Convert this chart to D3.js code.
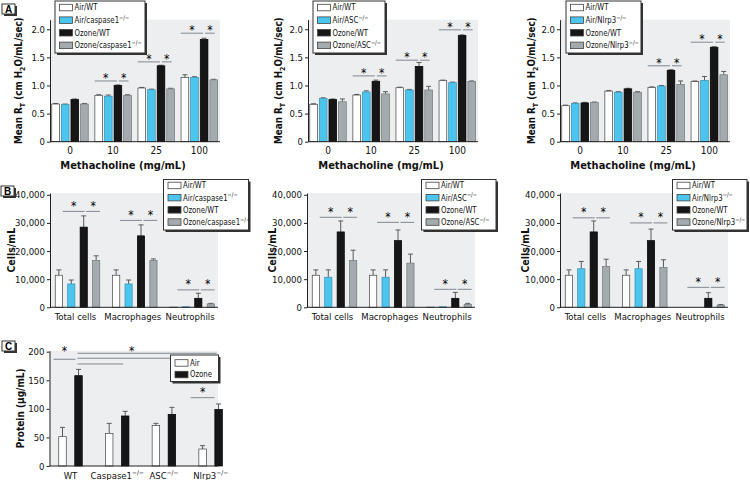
<!DOCTYPE html>
<html><head><meta charset="utf-8">
<script src="https://cdn.jsdelivr.net/npm/d3@7"></script>
<style>
body{margin:0;background:#fff;}
svg{display:block;font-family:'Liberation Sans Narrow','DejaVu Sans Condensed','Arial Narrow',sans-serif;}
</style></head><body>
<svg id="chart" width="750" height="480"></svg>
<script>
// ---------------- data ----------------
const doses = ["0", "10", "25", "100"];
const cellTypes = ["Total cells", "Macrophages", "Neutrophils"];
const proteinGroups = ["WT", "Caspase1", "ASC", "Nlrp3"];
const proteinGroupSup = ["", "−/−", "−/−", "−/−"];

const legendCasp = ["Air/WT", "Air/caspase1", "Ozone/WT", "Ozone/caspase1"];
const legendASC = ["Air/WT", "Air/ASC", "Ozone/WT", "Ozone/ASC"];
const legendNlrp3 = ["Air/WT", "Air/Nlrp3", "Ozone/WT", "Ozone/Nlrp3"];
const legendSup = ["", "−/−", "", "−/−"];
const legendProtein = ["Air", "Ozone"];

const rtTicks = [0, 0.5, 1.0, 1.5, 2.0];
const rtTickLabels = ["0", "0.5", "1.0", "1.5", "2.0"];
const cellTicks = [0, 10000, 20000, 30000, 40000];
const cellTickLabels = ["0", "10,000", "20,000", "30,000", "40,000"];
const proteinTicks = [0, 50, 100, 150, 200];
const proteinTickLabels = ["0", "50", "100", "150", "200"];

// Panel A: mean RT by methacholine dose
const a1AirWT = [0.67, 0.825, 0.955, 1.14];
const a1AirKO = [0.66, 0.81, 0.925, 1.145];
const a1OzWT = [0.75, 1.00, 1.35, 1.82];
const a1OzKO = [0.67, 0.825, 0.94, 1.10];
const a1ErrAirWT = [0.01, 0.01, 0.01, 0.05];
const a1ErrAirKO = [0.01, 0.02, 0.01, 0.01];
const a1ErrOzWT = [0.01, 0.01, 0.01, 0.02];
const a1ErrOzKO = [0.01, 0.01, 0.01, 0.01];
const a1SigDose = ["10", "25", "100"];
const a1SigLevel = [1.08, 1.42, 1.93];

const a2AirWT = [0.665, 0.83, 0.96, 1.085];
const a2AirKO = [0.77, 0.885, 0.92, 1.05];
const a2OzWT = [0.75, 1.075, 1.34, 1.89];
const a2OzKO = [0.71, 0.85, 0.92, 1.07];
const a2ErrAirWT = [0.01, 0.01, 0.01, 0.01];
const a2ErrAirKO = [0.01, 0.02, 0.01, 0.01];
const a2ErrOzWT = [0.01, 0.02, 0.07, 0.01];
const a2ErrOzKO = [0.05, 0.04, 0.065, 0.01];
const a2SigDose = ["10", "25", "100"];
const a2SigLevel = [1.17, 1.45, 1.99];

const a3AirWT = [0.64, 0.90, 0.965, 1.07];
const a3AirKO = [0.68, 0.88, 0.99, 1.09];
const a3OzWT = [0.69, 0.94, 1.27, 1.68];
const a3OzKO = [0.695, 0.88, 1.02, 1.19];
const a3ErrAirWT = [0.01, 0.01, 0.01, 0.01];
const a3ErrAirKO = [0.01, 0.01, 0.01, 0.07];
const a3ErrOzWT = [0.01, 0.01, 0.01, 0.01];
const a3ErrOzKO = [0.01, 0.01, 0.06, 0.06];
const a3SigDose = ["25", "100"];
const a3SigLevel = [1.35, 1.77];

// Panel B: BAL cells/mL
const b1AirWT = [11400, 11400, 50];
const b1AirKO = [8300, 8300, 200];
const b1OzWT = [28500, 25400, 3200];
const b1OzKO = [16600, 16600, 1200];
const b1ErrAirWT = [1900, 1900, 0];
const b1ErrAirKO = [1400, 1400, 0];
const b1ErrOzWT = [4000, 3900, 1800];
const b1ErrOzKO = [1700, 600, 200];
const b1SigLevel = [34100, 30900, 6200];

const b2AirWT = [11400, 11400, 50];
const b2AirKO = [10700, 10700, 200];
const b2OzWT = [26800, 23700, 3200];
const b2OzKO = [16600, 15700, 1000];
const b2ErrAirWT = [1900, 1900, 0];
const b2ErrAirKO = [2600, 2600, 0];
const b2ErrOzWT = [3900, 3800, 2100];
const b2ErrOzKO = [3700, 3200, 400];
const b2SigLevel = [32000, 30200, 6400];

const b3AirWT = [11400, 11400, 0];
const b3AirKO = [13700, 13700, 0];
const b3OzWT = [26800, 23700, 3200];
const b3OzKO = [14500, 14200, 800];
const b3ErrAirWT = [1900, 1900, 0];
const b3ErrAirKO = [2600, 2600, 0];
const b3ErrOzWT = [3900, 4100, 2000];
const b3ErrOzKO = [2600, 2700, 200];
const b3SigLevel = [31800, 30000, 7100];

// Panel C: BAL protein
const cAir = [51.3, 57, 71, 29.7];
const cOzone = [158, 87.5, 90.4, 99];
const cErrAir = [16.3, 17.6, 3.6, 5.9];
const cErrOzone = [11, 8.1, 12.2, 9.5];
const cSigWTLevel = 186.7;          // WT air vs WT ozone
const cSigWTStarLevel = 207;
const cSigKOGroups = ["Caspase1", "ASC", "Nlrp3"]; // WT ozone vs KO ozone
const cSigKOLevel = [178.5, 188.5, 197.2];
const cSigKOStarLevel = 207;
const cSigNlrp3Level = 119.5;       // Nlrp3 air vs ozone
const cSigNlrp3StarLevel = 134;

const fourColors = ["#ffffff", "#4cc5ee", "#161616", "#a3abaf"];
const twoColors = ["#ffffff", "#161616"];

// ---------------- drawing ----------------
const svg = d3.select("#chart");
const BG = "#eceef0", AX = "#222", ERR = "#5a5a5a", SIG = "#808890";

function addSup(t, base, sup, supSize) {
  t.append("tspan").text(base);
  if (sup) t.append("tspan").attr("dy", -3.2).attr("font-size", supSize || 6.5).text(sup);
}
function squeeze(t, x, sx) {
  t.attr("transform", `translate(${x * (1 - sx)},0) scale(${sx},1)`);
}

function shadowBox(g, x, y, w, h) {
  g.append("rect").attr("x", x + 2).attr("y", y + 2).attr("width", w).attr("height", h).attr("fill", "#333");
  g.append("rect").attr("x", x).attr("y", y).attr("width", w).attr("height", h)
    .attr("fill", "#fff").attr("stroke", "#333").attr("stroke-width", 1);
}

function panelLetter(x, y, letter) {
  const g = svg.append("g");
  shadowBox(g, x, y, 13, 10);
  g.append("text").attr("x", x + 6.5).attr("y", y + 8.6).attr("text-anchor", "middle")
    .attr("font-size", 10).attr("font-weight", "bold").attr("font-family", "Liberation Sans, Arial, sans-serif").text(letter);
}

function legend(x, y, w, h, labels, sups, colors, first, step) {
  const g = svg.append("g");
  shadowBox(g, x, y, w, h);
  labels.forEach((lab, i) => {
    const cy = y + first + i * step;
    g.append("rect").attr("x", x + 4.5).attr("y", cy - 3).attr("width", 13).attr("height", 6.5)
      .attr("fill", colors[i]).attr("stroke", "#444").attr("stroke-width", 0.8);
    const tx = x + 19.5;
    const t = g.append("text").attr("x", tx).attr("y", cy + 3.2).attr("font-size", 9).attr("fill", "#111");
    addSup(t, lab, sups[i], 6.5);
    squeeze(t, tx, 0.86);
  });
}

function barPanel(cfg) {
  const g = svg.append("g");
  const y = d3.scaleLinear().domain([0, cfg.yMax]).range([cfg.bottom, cfg.top]);
  const n = cfg.categories.length;
  const x0 = cfg.left + cfg.firstCenter - cfg.step / 2;
  const x = d3.scaleBand().domain(cfg.categories).range([x0, x0 + cfg.step * n]);
  const inner = d3.scaleBand().domain(d3.range(cfg.series.length)).range([-cfg.half, cfg.half]).paddingInner(cfg.innerPad);
  const center = c => x(c) + x.bandwidth() / 2;
  const barL = (c, s) => center(c) + inner(s);
  const barC = (c, s) => barL(c, s) + inner.bandwidth() / 2;

  g.append("rect").attr("x", cfg.left).attr("y", cfg.top).attr("width", cfg.width)
    .attr("height", cfg.bottom - cfg.top).attr("fill", BG);

  const strokes = cfg.strokes;
  cfg.series.forEach((vals, si) => {
    const rows = vals.map((v, i) => ({ c: cfg.categories[i], v: v, e: cfg.errors[si][i] }));
    const eg = g.append("g").attr("stroke", ERR).attr("stroke-width", 1);
    eg.selectAll("line.v").data(rows.filter(d => d.e > 0)).join("line")
      .attr("x1", d => barC(d.c, si)).attr("x2", d => barC(d.c, si))
      .attr("y1", d => y(d.v)).attr("y2", d => y(d.v + d.e));
    eg.selectAll("line.h").data(rows.filter(d => d.e > 0)).join("line")
      .attr("x1", d => barC(d.c, si) - 2.5).attr("x2", d => barC(d.c, si) + 2.5)
      .attr("y1", d => y(d.v + d.e)).attr("y2", d => y(d.v + d.e));
    g.append("g").selectAll("rect").data(rows.filter(d => d.v > 0)).join("rect")
      .attr("x", d => barL(d.c, si) + 0.25).attr("width", inner.bandwidth() - 0.5)
      .attr("y", d => y(d.v)).attr("height", d => cfg.bottom - y(d.v))
      .attr("fill", cfg.colors[si]).attr("stroke", strokes[si]).attr("stroke-width", 0.7);
  });

  const sg = g.append("g");
  (cfg.sig || []).forEach(s => {
    const segs = cfg.sigSegments(s.c, barL, barC, inner.bandwidth());
    segs.forEach(seg => {
      sg.append("line").attr("x1", seg[0]).attr("x2", seg[1]).attr("y1", y(s.level)).attr("y2", y(s.level))
        .attr("stroke", SIG).attr("stroke-width", 1);
      sg.append("text").attr("x", (seg[0] + seg[1]) / 2).attr("y", y(s.level) - cfg.starGap + 7)
        .attr("text-anchor", "middle").attr("font-size", 12).attr("fill", "#000").text("*");
    });
  });

  const ya = g.append("g").attr("transform", `translate(${cfg.left},0)`)
    .call(d3.axisLeft(y).tickValues(cfg.ticks).tickFormat((d, i) => cfg.tickLabels[i]).tickSize(3).tickSizeOuter(0).tickPadding(2));
  ya.attr("font-family", null).attr("font-size", null);
  ya.select(".domain").attr("stroke", AX);
  ya.selectAll(".tick line").attr("stroke", AX);
  ya.selectAll(".tick text").attr("font-size", 9.5).attr("fill", "#111");

  g.append("line").attr("x1", cfg.left).attr("x2", cfg.left + cfg.width)
    .attr("y1", cfg.bottom).attr("y2", cfg.bottom).attr("stroke", AX).attr("stroke-width", 1);
  cfg.categories.forEach((c, i) => {
    const t = g.append("text").attr("x", center(c) + (cfg.catShift || 0)).attr("y", cfg.catY)
      .attr("text-anchor", "middle").attr("font-size", cfg.catSize || 10).attr("fill", "#111");
    addSup(t, c, cfg.catSup ? cfg.catSup[i] : "", 6.5);
  });

  const yt = g.append("text").attr("transform", `translate(${cfg.left - cfg.yTitleOff},${(cfg.top + cfg.bottom) / 2 + (cfg.yTitleShift || 0)}) rotate(-90)`)
    .attr("text-anchor", "middle").attr("font-size", cfg.yTitleSize).attr("font-weight", "bold").attr("fill", "#111");
  cfg.yTitle(yt);
  if (cfg.xTitle) {
    g.append("text").attr("x", cfg.left + cfg.width / 2 - 12).attr("y", cfg.xTitleY)
      .attr("text-anchor", "middle").attr("font-size", 11).attr("font-weight", "bold").attr("fill", "#111").text(cfg.xTitle);
  }
  return { x, y, barL, barC, bw: inner.bandwidth() };
}

function rtTitle(t) {
  t.append("tspan").text("Mean R");
  t.append("tspan").attr("dy", 2.5).attr("font-size", 7).text("T");
  t.append("tspan").attr("dy", -2.5).text(" (cm H");
  t.append("tspan").attr("dy", 2.5).attr("font-size", 7).text("2");
  t.append("tspan").attr("dy", -2.5).text("O/mL/sec)");
}

const fourStrokes = ["#444", "#3a8fb0", "#000", "#6e767a"];
const segA = (c, barL, barC, bw) => [[barL(c, 0), barC(c, 2) - 1], [barC(c, 2) + 1, barC(c, 3) + 1]];
const segB = (c, barL, barC, bw) => [[barL(c, 0) + bw, barC(c, 2) + 1], [barC(c, 2) + 2.5, barL(c, 3) + bw]];

function panelA(left, titleOff, series, errors, sigDose, sigLevel) {
  barPanel({
    left: left, width: 170, top: 19.7, bottom: 141.7, yMax: 2.17,
    categories: doses, firstCenter: 20, step: 43.1, half: 18.5, innerPad: 0.15,
    series: series, errors: errors, colors: fourColors, strokes: fourStrokes,
    ticks: rtTicks, tickLabels: rtTickLabels, catY: 153.5,
    sig: sigDose.map((c, i) => ({ c: c, level: sigLevel[i] })), sigSegments: segA, starGap: 6,
    yTitle: rtTitle, yTitleOff: titleOff, yTitleSize: 9.8, xTitle: "Methacholine (mg/mL)", xTitleY: 169
  });
}
function panelB(left, titleOff, series, errors, sigLevel) {
  barPanel({
    left: left, width: 168, top: 193.1, bottom: 307.3, yMax: 40600,
    categories: cellTypes, firstCenter: 27.5, step: 57.3, half: 22.5, innerPad: 0.38,
    series: series, errors: errors, colors: fourColors, strokes: fourStrokes,
    ticks: cellTicks, tickLabels: cellTickLabels, catY: 320, catShift: -2, catSize: 9.5,
    sig: cellTypes.map((c, i) => ({ c: c, level: sigLevel[i] })), sigSegments: segB, starGap: 8.5,
    yTitle: t => t.text("Cells/mL"), yTitleOff: titleOff, yTitleSize: 10.5
  });
}

panelA(50, 28, [a1AirWT, a1AirKO, a1OzWT, a1OzKO], [a1ErrAirWT, a1ErrAirKO, a1ErrOzWT, a1ErrOzKO], a1SigDose, a1SigLevel);
panelA(308, 26, [a2AirWT, a2AirKO, a2OzWT, a2OzKO], [a2ErrAirWT, a2ErrAirKO, a2ErrOzWT, a2ErrOzKO], a2SigDose, a2SigLevel);
panelA(560, 25, [a3AirWT, a3AirKO, a3OzWT, a3OzKO], [a3ErrAirWT, a3ErrAirKO, a3ErrOzWT, a3ErrOzKO], a3SigDose, a3SigLevel);

panelB(50, 35, [b1AirWT, b1AirKO, b1OzWT, b1OzKO], [b1ErrAirWT, b1ErrAirKO, b1ErrOzWT, b1ErrOzKO], b1SigLevel);
panelB(307, 31, [b2AirWT, b2AirKO, b2OzWT, b2OzKO], [b2ErrAirWT, b2ErrAirKO, b2ErrOzWT, b2ErrOzKO], b2SigLevel);
panelB(560, 31, [b3AirWT, b3AirKO, b3OzWT, b3OzKO], [b3ErrAirWT, b3ErrAirKO, b3ErrOzWT, b3ErrOzKO], b3SigLevel);

// Panel C
const pc = barPanel({
  left: 49.5, width: 168.5, top: 350.7, bottom: 466, yMax: 201.7,
  categories: proteinGroups, catSup: proteinGroupSup, firstCenter: 21, step: 46.7, half: 12, innerPad: 0.5,
  series: [cAir, cOzone], errors: [cErrAir, cErrOzone], colors: twoColors, strokes: ["#444", "#000"],
  ticks: proteinTicks, tickLabels: proteinTickLabels, catY: 478.5, catSize: 9.5,
  sig: [], sigSegments: segA, starGap: 8,
  yTitle: t => t.text("Protein (µg/mL)"), yTitleOff: 26, yTitleSize: 10
});
(function () {
  const y = pc.y, barL = pc.barL;
  const g = svg.append("g");
  const line = (x1, x2, lv) => g.append("line").attr("x1", x1).attr("x2", x2).attr("y1", y(lv)).attr("y2", y(lv))
    .attr("stroke", SIG).attr("stroke-width", 1);
  const star = (xx, lv) => g.append("text").attr("x", xx).attr("y", y(lv) + 7).attr("text-anchor", "middle")
    .attr("font-size", 12).attr("fill", "#000").text("*");
  const wtA = barL("WT", 0) - 5, wtB = barL("WT", 1) + 1;
  line(wtA, wtB, cSigWTLevel);
  star((wtA + wtB) / 2, cSigWTStarLevel);
  const start = barL("WT", 1) + 3;
  cSigKOGroups.forEach((c, i) => line(start, barL(c, 1) + 2, cSigKOLevel[i]));
  const mids = cSigKOGroups.map(c => (start + barL(c, 1) + 2) / 2);
  star(d3.mean(mids) + 8, cSigKOStarLevel);
  const nA = barL("Nlrp3", 0) - 8, nB = barL("Nlrp3", 1);
  line(nA, nB, cSigNlrp3Level);
  star((nA + nB) / 2, cSigNlrp3StarLevel);
})();

// legends
legend(55, 1, 90, 52, legendCasp, legendSup, fourColors, 6.3, 12.6);
legend(313, 1, 72, 52, legendASC, legendSup, fourColors, 6.3, 12.6);
legend(566, 1, 75, 52, legendNlrp3, legendSup, fourColors, 6.3, 12.6);
legend(163.5, 179.5, 85, 50.5, legendCasp, legendSup, fourColors, 5.7, 12.2);
legend(421.5, 179.5, 74.5, 50.5, legendASC, legendSup, fourColors, 5.7, 12.2);
legend(672.5, 179.5, 74.5, 50.5, legendNlrp3, legendSup, fourColors, 5.7, 12.2);
legend(170.5, 355, 48, 26.5, legendProtein, ["", ""], twoColors, 7.7, 11.6);

panelLetter(2, 4, "A");
panelLetter(1, 186, "B");
panelLetter(2, 341, "C");
</script>
</body></html>
